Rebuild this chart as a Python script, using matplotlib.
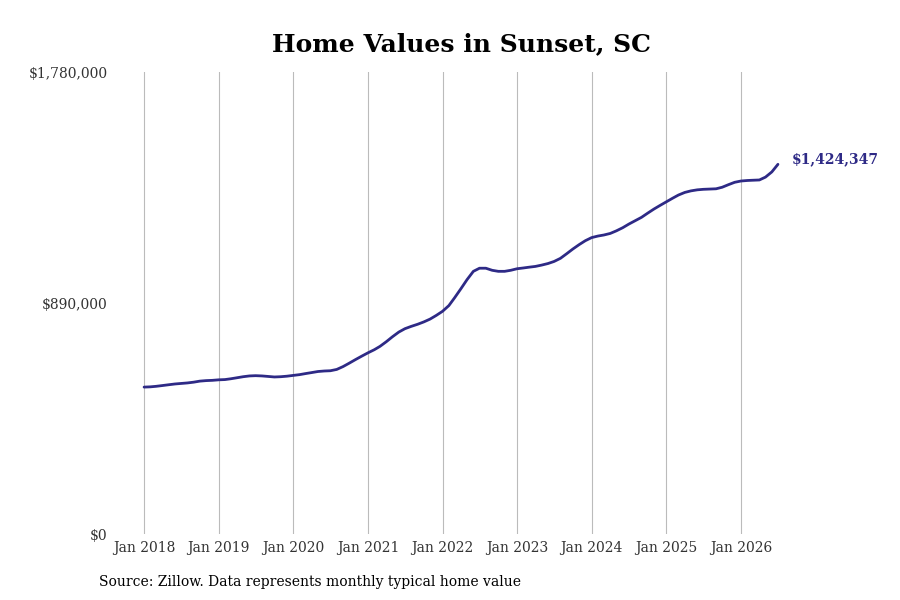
import pandas as pd
import matplotlib
matplotlib.use('Agg')
import matplotlib.pyplot as plt
import matplotlib.transforms as mtransforms
from matplotlib.ticker import FixedLocator

plt.rcParams['font.family'] = 'DejaVu Serif'

# monthly typical home value, Jan 2018 .. Jul 2026
months = pd.date_range('2018-01-01', periods=103, freq='MS')
values = [
    566000, 567000, 569000, 572000, 575000, 578000, 580000, 582000, 585000, 589000, 591000, 592000,
    594000, 595000, 598000, 602000, 606000, 609000, 610000, 609000, 607000, 605000, 606000, 608000,
    611000, 614000, 618000, 622000, 626000, 628000, 629000, 634000, 645000, 658000, 672000, 685000,
    698000, 710000, 723000, 741000, 760000, 778000, 791000, 800000, 808000, 817000, 828000, 842000,
    858000, 880000, 910000, 945000, 980000, 1012000, 1024000, 1024000, 1016000, 1012000, 1012000, 1016000,
    1022000, 1025000, 1028000, 1031000, 1036000, 1042000, 1050000, 1062000, 1080000, 1098000, 1115000, 1130000,
    1142000, 1148000, 1152000, 1158000, 1168000, 1180000, 1194000, 1207000, 1220000, 1236000, 1252000, 1266000,
    1280000, 1294000, 1306000, 1316000, 1322000, 1326000, 1328000, 1329000, 1330000, 1336000, 1346000, 1355000,
    1360000, 1362000, 1363000, 1364000, 1375000, 1395000, 1424347,
]
y_ticks = [0, 890000, 1780000]
y_labels = ['$0', '$890,000', '$1,780,000']
x_ticks = pd.date_range('2018-01-01', '2026-01-01', freq='YS')
x_labels = [d.strftime('Jan %Y') for d in x_ticks]

LINE = '#2e2a86'

fig = plt.figure(figsize=(9, 6), dpi=100)
ax = fig.add_axes([112 / 900, 1 - 534 / 600, (790 - 112) / 900, 462 / 600])

ax.plot(months, values, color=LINE, lw=2, solid_capstyle='round')

ax.set_ylim(0, 1780000)
ax.set_xlim(pd.Timestamp('2017-07-28'), pd.Timestamp('2026-08-29'))

ax.yaxis.set_major_locator(FixedLocator(y_ticks))
ax.set_yticklabels(y_labels)
ax.set_xticks(x_ticks)
ax.set_xticklabels(x_labels)
ax.tick_params(axis='both', length=0, labelsize=10, labelcolor='#333333')
ax.tick_params(axis='x', pad=5)
ax.tick_params(axis='y', pad=3)
shift = mtransforms.ScaledTranslation(0, -2 / 100, fig.dpi_scale_trans)
for lbl in ax.get_yticklabels():
    lbl.set_verticalalignment('center')
    lbl.set_transform(lbl.get_transform() + shift)

ax.grid(axis='x', color='#bbbbbb', lw=0.8)
ax.grid(axis='y', visible=False)
for s in ax.spines.values():
    s.set_visible(False)

ax.annotate('$1,424,347', xy=(months[-1], values[-1]), xytext=(10, 4),
            textcoords='offset points', ha='left', va='center',
            fontsize=10, fontweight='bold', color=LINE, annotation_clip=False)

fig.text(461 / 900, 1 - 44 / 600, 'Home Values in Sunset, SC', ha='center', va='center',
         fontsize=18, fontweight='bold', color='black')
fig.text(99 / 900, 1 - 582 / 600, 'Source: Zillow. Data represents monthly typical home value',
         ha='left', va='center', fontsize=10, color='black')

fig.savefig('out.png', dpi=100)
